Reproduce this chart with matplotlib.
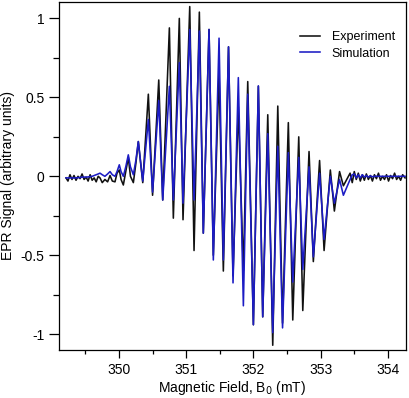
import numpy as np
import matplotlib
matplotlib.use('Agg')
import matplotlib.pyplot as plt
from matplotlib.ticker import MultipleLocator, FormatStrFormatter

plt.rcParams['font.family'] = ['Liberation Sans', 'DejaVu Sans']
plt.rcParams['axes.unicode_minus'] = False

# baseline / left wing (mT, signal)
left_b = [349.211, 349.24, 349.27, 349.30, 349.33, 349.36, 349.39, 349.42, 349.45,
          349.48, 349.51, 349.54, 349.57, 349.60, 349.63, 349.66, 349.69, 349.717,
          349.75, 349.79, 349.83, 349.866, 349.90, 349.94, 349.97, 350.004, 350.03,
          350.064, 350.10, 350.138, 350.17, 350.213, 350.25]
left_exp = [-0.01, -0.03, 0.01, -0.02, 0.005, -0.025, 0.0, -0.015, 0.015,
            -0.02, -0.005, -0.03, 0.01, -0.025, -0.01, -0.035, 0.0, -0.01,
            -0.04, -0.02, -0.035, 0.005, -0.03, -0.035, 0.02, 0.04, -0.02,
            -0.055, 0.03, 0.12, 0.0, -0.04, 0.08]
left_sim = [-0.01, -0.01, -0.01, -0.01, -0.01, -0.01, -0.008, -0.008, -0.005,
            -0.005, -0.005, -0.004, -0.002, 0.0, 0.005, 0.01, 0.015, 0.02,
            0.01, 0.0, 0.015, 0.03, 0.01, 0.0, 0.03, 0.073, 0.03,
            0.0, 0.06, 0.136, 0.06, 0.01, 0.1]

# main hyperfine pattern: alternating peaks and troughs
main_b = [350.287, 350.353, 350.436, 350.499, 350.591, 350.650, 350.749, 350.808,
          350.897, 350.952, 351.052, 351.116, 351.195, 351.254, 351.339, 351.403,
          351.488, 351.552, 351.629, 351.696, 351.775, 351.850, 351.915, 351.999,
          352.073, 352.138, 352.213, 352.287, 352.362, 352.433, 352.519, 352.585,
          352.674, 352.734, 352.827, 352.891, 352.984, 353.051, 353.144, 353.204,
          353.281, 353.338, 353.438]
main_exp = [0.22, -0.04, 0.52, -0.12, 0.61, -0.15, 0.94, -0.265,
            1.00, -0.275, 1.075, -0.47, 1.04, -0.36, 0.93, -0.50,
            0.66, -0.60, 0.82, -0.63, 0.44, -0.60, 0.60, -0.94,
            0.57, -0.89, 0.39, -1.07, 0.445, -0.93, 0.34, -0.91,
            0.25, -0.85, 0.157, -0.54, 0.10, -0.47, 0.04, -0.22,
            0.03, -0.06, 0.02]
main_sim = [0.22, -0.03, 0.36, -0.10, 0.48, -0.15, 0.57, -0.15,
            0.72, -0.17, 0.93, -0.15, 0.92, -0.36, 0.93, -0.53,
            0.875, -0.53, 0.82, -0.675, 0.625, -0.82, 0.52, -0.94,
            0.573, -0.89, 0.27, -0.99, 0.19, -0.96, 0.15, -0.67,
            0.12, -0.59, 0.06, -0.51, 0.02, -0.40, 0.0, -0.17,
            -0.02, -0.12, -0.02]

# right wing / baseline
right_b = [353.47, 353.50, 353.53, 353.56, 353.59, 353.62, 353.65, 353.68, 353.71,
           353.74, 353.77, 353.80, 353.83, 353.86, 353.89, 353.92, 353.95, 353.98,
           354.01, 354.04, 354.07, 354.10, 354.13, 354.16, 354.19, 354.22, 354.256]
right_exp = [-0.04, 0.03, -0.02, 0.02, -0.03, 0.01, -0.025, 0.015, -0.02,
             0.005, -0.03, 0.01, -0.015, 0.02, -0.025, 0.0, -0.02, 0.01,
             -0.03, 0.005, -0.015, 0.02, -0.02, 0.0, -0.025, 0.01, -0.01]
right_sim = [0.01, 0.015, -0.01, 0.01, -0.01, 0.01, -0.005, 0.005, -0.005,
             0.003, -0.003, 0.0, 0.0, 0.0, 0.0, 0.0, 0.0, 0.0,
             0.0, 0.0, 0.0, 0.0, 0.0, 0.0, 0.0, 0.0, 0.0]

field = np.array(left_b + main_b + right_b)
exp_sig = np.array(left_exp + main_exp + right_exp)
sim_sig = np.array(left_sim + main_sim + right_sim)

fig = plt.figure(figsize=(4.09, 3.98), dpi=100)
ax = fig.add_axes([0.1443, 0.1206, 0.8484, 0.8744])
ax.plot(field, exp_sig, color='#111111', lw=1.15, solid_joinstyle='round',
        label='Experiment')
ax.plot(field, sim_sig, color='#1c1cc4', lw=1.15, solid_joinstyle='round',
        label='Simulation')

ax.set_xlim(349.107, 354.27)
ax.set_ylim(-1.1, 1.104)
ax.xaxis.set_major_locator(MultipleLocator(1))
ax.xaxis.set_minor_locator(MultipleLocator(0.5))
ax.yaxis.set_major_locator(MultipleLocator(0.5))
ax.yaxis.set_minor_locator(MultipleLocator(0.25))
ax.yaxis.set_major_formatter(FormatStrFormatter('%g'))
ax.tick_params(which='major', direction='out', length=6, width=0.9, labelsize=10)
ax.tick_params(which='minor', direction='out', length=3, width=0.9)
ax.tick_params(axis='y', which='major', length=7)
ax.tick_params(axis='y', which='minor', length=4)
for s in ax.spines.values():
    s.set_linewidth(0.9)

ax.set_xlabel('Magnetic Field, B$_0$ (mT)', fontsize=10, labelpad=1)
ax.set_ylabel('EPR Signal (arbitrary units)', fontsize=10, labelpad=4)
ax.legend(loc='upper right', frameon=False, fontsize=9, handlelength=1.6,
          handletextpad=0.9, bbox_to_anchor=(1.0, 0.948), labelspacing=0.35)

fig.savefig('out.png', dpi=100)
